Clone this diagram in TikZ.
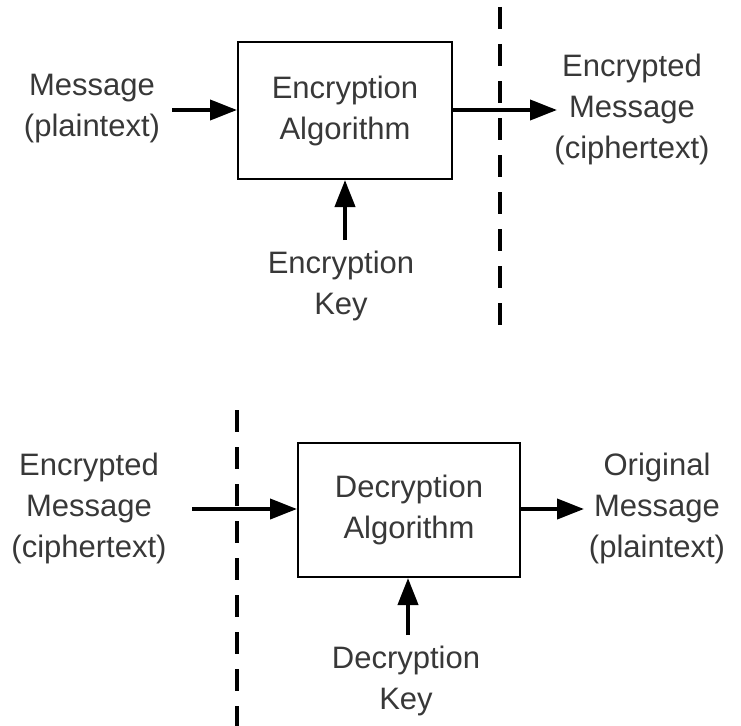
\documentclass[tikz,border=0pt]{standalone}
\usepackage{fontspec}
\setmainfont{Liberation Sans}
\usetikzlibrary{arrows.meta}
\begin{document}
\begin{tikzpicture}[x=1pt,y=-1pt,
  lbl/.style={inner sep=0pt,align=center,text=black!78,font=\fontsize{31}{41}\selectfont},
  blk/.style={draw,line width=2pt,minimum width=214pt,minimum height=137pt,inner sep=0pt,align=center,text=black!78,font=\fontsize{31}{41}\selectfont},
  flow/.style={line width=4pt,-{Triangle[length=27pt,width=20pt]}},
  divider/.style={line width=4pt,dash pattern=on 22pt off 15pt}]
\useasboundingbox (0,0) rectangle (741,725);
\begin{scope}
\clip (0,0) rectangle (741,725);
% top part
\node[blk] (enc) at (345,110.5) {Encryption\\Algorithm};
\node[lbl] (msg) at (92,109) {Message\\(plaintext)};
\node[lbl] (encmsg) at (632,109) {Encrypted\\Message\\(ciphertext)};
\node[lbl] (enckey) at (341,286) {Encryption\\Key};
\coordinate (msgend) at (172,110);
\coordinate (encout) at (557,110);
\coordinate (enckeytop) at (345,240);
\draw[flow] (msgend) -- (enc.west |- msgend);
\draw[flow] (enc.east |- encout) -- (encout);
\draw[flow] (enckeytop) -- (enc.south -| enckeytop);
\coordinate (d1a) at (500,7);
\coordinate (d1b) at (500,335);
\draw[divider] (d1a) -- (d1b);
% bottom part
\node[blk,minimum width=222pt,minimum height=134pt] (dec) at (409,510) {Decryption\\Algorithm};
\node[lbl] (encmsg2) at (89,508) {Encrypted\\Message\\(ciphertext)};
\node[lbl] (origmsg) at (657,508) {Original\\Message\\(plaintext)};
\node[lbl] (deckey) at (406,681) {Decryption\\Key};
\coordinate (inend) at (192,509);
\coordinate (decout) at (584,509);
\coordinate (deckeytop) at (408,635);
\draw[flow] (inend) -- (dec.west |- inend);
\draw[flow] (dec.east |- decout) -- (decout);
\draw[flow] (deckeytop) -- (dec.south -| deckeytop);
\coordinate (d2a) at (237,410);
\coordinate (d2b) at (237,730);
\draw[divider] (d2a) -- (d2b);
\end{scope}
\end{tikzpicture}
\end{document}
